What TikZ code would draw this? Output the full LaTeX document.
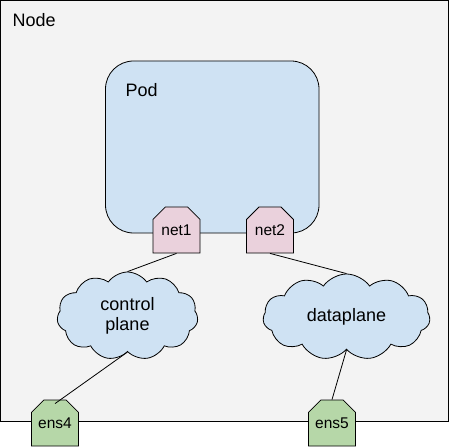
\documentclass[tikz,border=0pt]{standalone}
\usepackage{fontspec}
\setmainfont{Liberation Sans}
\usetikzlibrary{shapes.symbols,shapes.misc}
\definecolor{nodebg}{HTML}{F3F3F3}
\definecolor{podbg}{HTML}{CFE2F3}
\definecolor{netbg}{HTML}{EAD1DC}
\definecolor{ensbg}{HTML}{B6D7A8}
\definecolor{cloudbg}{HTML}{CFE2F3}
\begin{document}
\begin{tikzpicture}[x=1bp,y=-1bp,
  line width=0.8bp,
  bigtext/.style={font=\fontsize{18bp}{20bp}\selectfont},
  port/.style={draw, chamfered rectangle, chamfered rectangle corners={north west,north east},
    chamfered rectangle xsep=7bp, chamfered rectangle ysep=7bp,
    minimum width=47bp, minimum height=46bp, inner sep=0pt,
    font=\fontsize{15.5bp}{18bp}\selectfont},
  netport/.style={port, fill=netbg},
  ensport/.style={port, fill=ensbg},
  cloudnode/.style={draw, cloud, cloud puffs=11, cloud puff arc=110, cloud ignores aspect,
    fill=cloudbg, inner sep=0pt, align=center, bigtext},
  link/.style={draw=black, line width=0.8bp}
]
\useasboundingbox (0,0) rectangle (449,447);
% Node box
\draw[fill=nodebg] (0.5,0.5) rectangle (448,421);
\node[bigtext, anchor=west] (nodelabel) at (9,20) {Node};
% Pod
\draw[fill=podbg, rounded corners=28bp] (105.5,61) rectangle (319,233);
\node[bigtext, anchor=west] (podlabel) at (122,90) {Pod};
% clouds
\node[cloudnode, minimum width=141bp, minimum height=88bp] (cp) at (127.5,316) {control\\plane};
\node[cloudnode, minimum width=167bp, minimum height=86bp] (dp) at (346.5,317) {dataplane};
% ports
\node[netport] (net1) at (176.5,230) {net1};
\node[netport] (net2) at (270,230) {net2};
\node[ensport] (ens4) at (55,423) {ens4};
\node[ensport] (ens5) at (332,423) {ens5};
% links
\draw[link] (net1.south) -- (cp.north);
\draw[link] (net2.south) -- (dp.north);
\draw[link] (cp.south) -- ([yshift=-4bp]ens4.north);
\draw[link] (dp.south) -- (ens5.north);
\end{tikzpicture}
\end{document}
